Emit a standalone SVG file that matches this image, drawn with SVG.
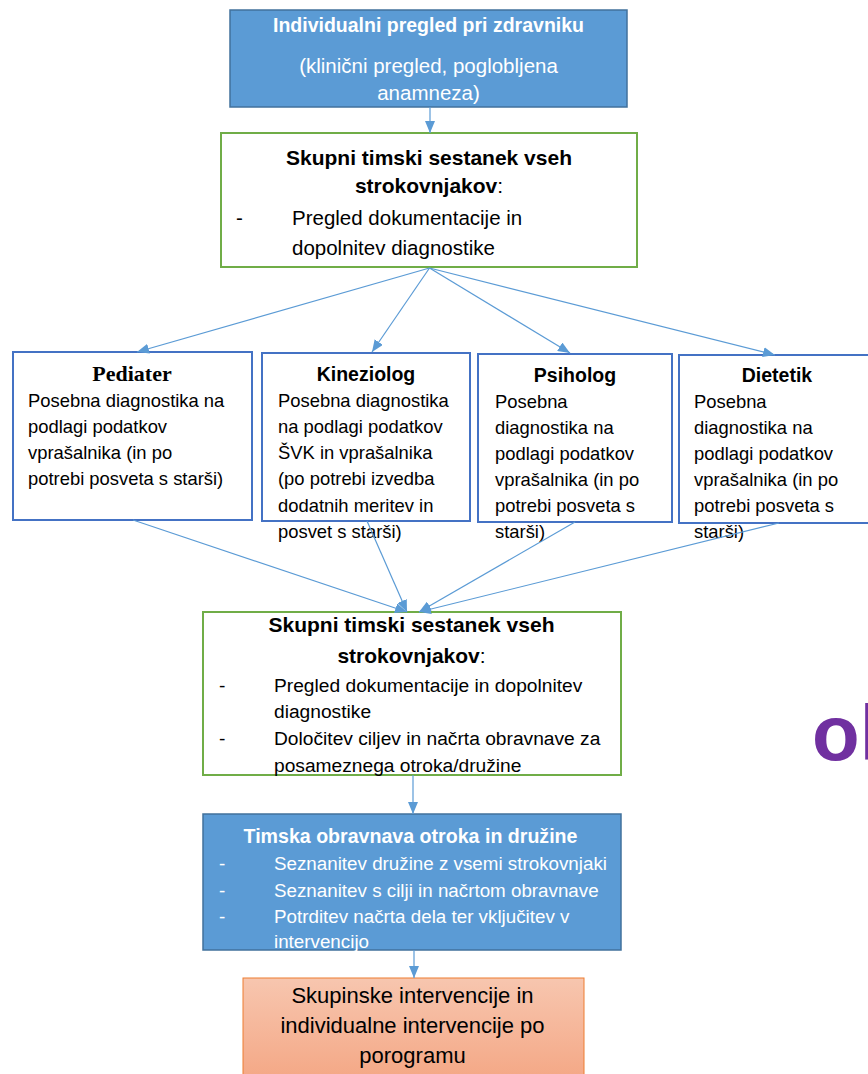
<svg xmlns="http://www.w3.org/2000/svg" width="868" height="1074" viewBox="0 0 868 1074">
<style>
text{font-family:"Liberation Sans",Arial,sans-serif;fill:#000}
.b{font-weight:bold}
.w{fill:#fff}
.c{text-anchor:middle}
.blue{fill:#5B9BD5;stroke:#41719C;stroke-width:1.5}
.green{fill:#fff;stroke:#70AD47;stroke-width:2}
.node{fill:#fff;stroke:#4472C4;stroke-width:2}
.nb{font-size:18.4px}
.nt{font-size:19.5px;font-weight:bold;text-anchor:middle}
.conn line{stroke:#5B9BD5;stroke-width:1.2;marker-end:url(#ah)}
</style>
<defs>
<marker id="ah" viewBox="0 0 12 10" refX="12" refY="5" markerWidth="12" markerHeight="10" markerUnits="userSpaceOnUse" orient="auto">
<path d="M0,0 L12,5 L0,10 z" fill="#5B9BD5"/>
</marker>
<linearGradient id="og" x1="0" y1="0" x2="0" y2="1">
<stop offset="0" stop-color="#F7C6AF"/>
<stop offset="1" stop-color="#F4A582"/>
</linearGradient>
</defs>
<rect width="868" height="1074" fill="#fff"/>

<g id="n-pregled">
<rect class="blue" x="230" y="10" width="397" height="97"/>
<text class="b w c" x="428.5" y="32" font-size="19.5">Individualni pregled pri zdravniku</text>
<text class="w c" x="428.5" y="73" font-size="20.5">(klinični pregled, poglobljena</text>
<text class="w c" x="428.5" y="100" font-size="20.5">anamneza)</text>
</g>

<g id="n-sestanek1">
<rect class="green" x="221" y="133" width="416" height="134"/>
<text class="b c" x="429" y="165" font-size="21">Skupni timski sestanek vseh</text>
<text class="c" x="429" y="193" font-size="21"><tspan class="b">strokovnjakov</tspan>:</text>
<text x="236" y="225" font-size="20.5">-</text>
<text x="292" y="225" font-size="20.5">Pregled dokumentacije in</text>
<text x="292" y="255" font-size="20.5">dopolnitev diagnostike</text>
</g>

<g id="n-pediater">
<rect class="node" x="13" y="352" width="239" height="168"/>
<text x="132" y="381" font-family="Liberation Serif,Times New Roman,serif" style="font-family:'Liberation Serif','Times New Roman',serif" font-size="22" font-weight="bold" text-anchor="middle">Pediater</text>
<text class="nb" x="28" y="407">Posebna diagnostika na</text>
<text class="nb" x="28" y="433">podlagi podatkov</text>
<text class="nb" x="28" y="459">vprašalnika (in po</text>
<text class="nb" x="28" y="485">potrebi posveta s starši)</text>
</g>

<g id="n-kineziolog">
<rect class="node" x="262" y="353" width="208" height="168"/>
<text class="nt" x="366" y="381">Kineziolog</text>
<text class="nb" x="278" y="407">Posebna diagnostika</text>
<text class="nb" x="278" y="433">na podlagi podatkov</text>
<text class="nb" x="278" y="459">ŠVK in vprašalnika</text>
<text class="nb" x="278" y="485">(po potrebi izvedba</text>
<text class="nb" x="278" y="512">dodatnih meritev in</text>
<text class="nb" x="278" y="538">posvet s starši)</text>
</g>

<g id="n-psiholog">
<rect class="node" x="478" y="354" width="194" height="168"/>
<text class="nt" x="575" y="382">Psiholog</text>
<text class="nb" x="495" y="408">Posebna</text>
<text class="nb" x="495" y="434">diagnostika na</text>
<text class="nb" x="495" y="460">podlagi podatkov</text>
<text class="nb" x="495" y="486">vprašalnika (in po</text>
<text class="nb" x="495" y="512">potrebi posveta s</text>
<text class="nb" x="495" y="538">starši)</text>
</g>

<g id="n-dietetik">
<rect class="node" x="679" y="355" width="200" height="168"/>
<text class="nt" x="777" y="382">Dietetik</text>
<text class="nb" x="694" y="408">Posebna</text>
<text class="nb" x="694" y="434">diagnostika na</text>
<text class="nb" x="694" y="460">podlagi podatkov</text>
<text class="nb" x="694" y="486">vprašalnika (in po</text>
<text class="nb" x="694" y="512">potrebi posveta s</text>
<text class="nb" x="694" y="538">starši)</text>
</g>

<g id="n-sestanek2">
<rect class="green" x="203" y="612" width="418" height="163"/>
<text class="b c" x="411.5" y="632" font-size="21">Skupni timski sestanek vseh</text>
<text class="c" x="411.5" y="663" font-size="21"><tspan class="b">strokovnjakov</tspan>:</text>
<text x="219" y="692" font-size="19.2">-</text>
<text x="274" y="692" font-size="19.2">Pregled dokumentacije in dopolnitev</text>
<text x="274" y="718" font-size="19.2">diagnostike</text>
<text x="219" y="745" font-size="19.2">-</text>
<text x="274" y="745" font-size="19.2">Določitev ciljev in načrta obravnave za</text>
<text x="274" y="772" font-size="19.2">posameznega otroka/družine</text>
</g>

<g id="n-obravnava">
<rect class="blue" x="203" y="814" width="418" height="136"/>
<text class="b w c" x="410.5" y="843" font-size="19.6">Timska obravnava otroka in družine</text>
<text class="w" x="219" y="870" font-size="18.8">-</text>
<text class="w" x="274" y="870" font-size="18.8">Seznanitev družine z vsemi strokovnjaki</text>
<text class="w" x="219" y="897" font-size="18.8">-</text>
<text class="w" x="274" y="897" font-size="18.8">Seznanitev s cilji in načrtom obravnave</text>
<text class="w" x="219" y="923" font-size="18.8">-</text>
<text class="w" x="274" y="923" font-size="18.8">Potrditev načrta dela ter vključitev v</text>
<text class="w" x="274" y="948" font-size="18.8">intervencijo</text>
</g>

<g id="n-intervencije">
<rect x="243" y="978" width="341" height="110" fill="url(#og)" stroke="#ED7D31" stroke-width="1"/>
<text class="c" x="412.5" y="1003" font-size="22">Skupinske intervencije in</text>
<text class="c" x="412.5" y="1033" font-size="22">individualne intervencije po</text>
<text class="c" x="412.5" y="1063" font-size="22">porogramu</text>
</g>

<text x="812" y="760" font-size="78" font-weight="bold" style="fill:#7030A0">ol</text>

<g id="connectors" class="conn">
<line x1="430" y1="107" x2="430" y2="133"/>
<line x1="429.5" y1="268" x2="137" y2="352"/>
<line x1="429.5" y1="268" x2="372" y2="352"/>
<line x1="429.5" y1="268" x2="570" y2="353"/>
<line x1="429.5" y1="268" x2="775" y2="355"/>
<line x1="133" y1="520" x2="407" y2="612"/>
<line x1="367" y1="521" x2="407" y2="612"/>
<line x1="575" y1="522" x2="419" y2="612"/>
<line x1="779" y1="523" x2="419" y2="612"/>
<line x1="413" y1="775" x2="413" y2="814"/>
<line x1="414" y1="950" x2="414" y2="978"/>
</g>
</svg>
